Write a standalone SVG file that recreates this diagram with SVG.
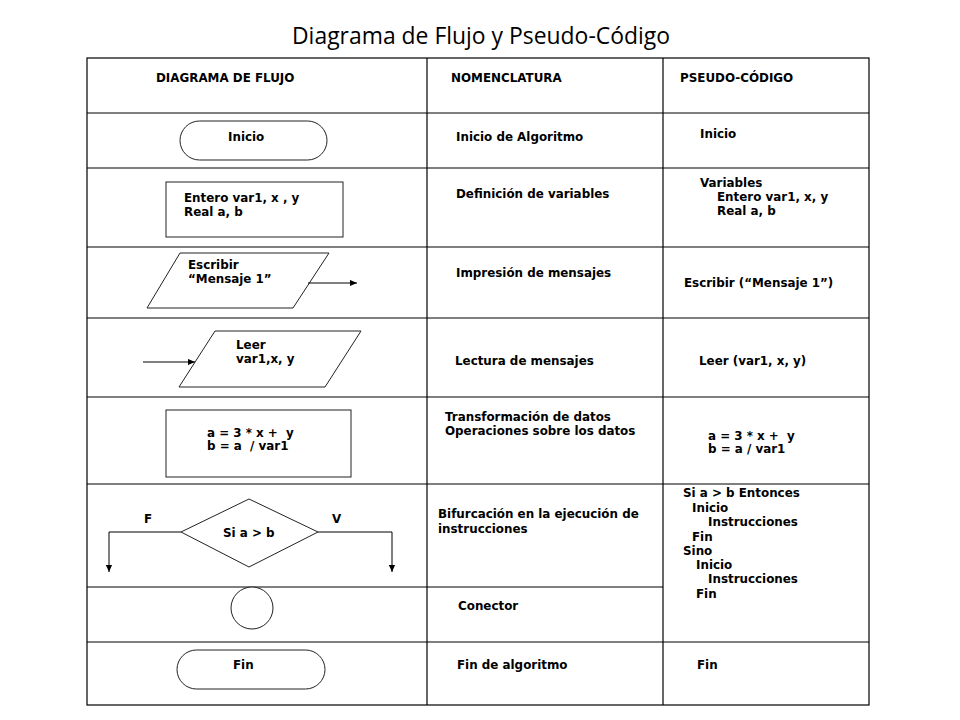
<svg xmlns="http://www.w3.org/2000/svg" width="960" height="720" viewBox="0 0 960 720">
  <defs>
    <marker id="arrow" viewBox="0 0 8 8" refX="8" refY="4" markerWidth="8" markerHeight="7" markerUnits="userSpaceOnUse" orient="auto">
      <path d="M0,0.5 L8,4 L0,7.5 z" fill="#000"/>
    </marker>
  </defs>
  <style>
    .grid { stroke: #000; stroke-width: 1.2; fill: none; }
    .shape { stroke: #222; stroke-width: 1; fill: #fff; }
    .conn { stroke: #000; stroke-width: 1; fill: none; }
    .t { font-family: "DejaVu Sans", Verdana, sans-serif; font-weight: bold; font-size: 11.9px; fill: #000; }
    .title { font-family: "Open Sans", "Noto Sans", sans-serif; font-size: 23.5px; fill: #000; }
  </style>
  <rect width="960" height="720" fill="#fff"/>

  <text class="title" x="292" y="44" textLength="378" lengthAdjust="spacingAndGlyphs">Diagrama de Flujo y Pseudo-Código</text>

  <g id="table" class="grid">
    <rect x="87" y="58" width="782" height="647"/>
    <line x1="427" y1="58" x2="427" y2="705"/>
    <line x1="663" y1="58" x2="663" y2="705"/>
    <line x1="87" y1="113" x2="869" y2="113"/>
    <line x1="87" y1="168" x2="869" y2="168"/>
    <line x1="87" y1="247" x2="869" y2="247"/>
    <line x1="87" y1="318" x2="869" y2="318"/>
    <line x1="87" y1="397" x2="869" y2="397"/>
    <line x1="87" y1="484" x2="869" y2="484"/>
    <line x1="87" y1="587" x2="663" y2="587"/>
    <line x1="87" y1="642" x2="869" y2="642"/>
  </g>

  <g id="headers">
    <text class="t" x="156" y="82">DIAGRAMA DE FLUJO</text>
    <text class="t" x="451" y="82">NOMENCLATURA</text>
    <text class="t" x="680" y="82">PSEUDO-CÓDIGO</text>
  </g>

  <g id="node-inicio">
    <rect class="shape" x="180" y="121" width="147" height="39" rx="19.5" ry="19.5"/>
    <text class="t" x="228" y="141">Inicio</text>
  </g>
  <g id="node-variables">
    <rect class="shape" x="166" y="182" width="177" height="55"/>
    <text class="t" x="184" y="202">Entero var1, x , y</text>
    <text class="t" x="184" y="216">Real a, b</text>
  </g>
  <g id="node-escribir">
    <polygon class="shape" points="180,253 329,253 293,308 147,308"/>
    <text class="t" x="188" y="269">Escribir</text>
    <text class="t" x="188" y="283">“Mensaje 1”</text>
  </g>
  <g id="node-leer">
    <polygon class="shape" points="215,331 361,331 325,387 179,387"/>
    <text class="t" x="236" y="349">Leer</text>
    <text class="t" x="236" y="363">var1,x, y</text>
  </g>
  <g id="node-proceso">
    <rect class="shape" x="166" y="410" width="185" height="67"/>
    <text class="t" x="207" y="437" xml:space="preserve">a = 3 * x +  y</text>
    <text class="t" x="207" y="450" xml:space="preserve">b = a  / var1</text>
  </g>
  <g id="node-decision">
    <polygon class="shape" points="181,532 249,499 318,532 249,567"/>
    <text class="t" x="223" y="537">Si a &gt; b</text>
  </g>
  <g id="node-conector">
    <circle class="shape" cx="252" cy="608" r="21"/>
  </g>
  <g id="node-fin">
    <rect class="shape" x="177" y="650" width="148" height="39" rx="19.5" ry="19.5"/>
    <text class="t" x="233" y="669">Fin</text>
  </g>

  <g id="connectors" class="conn">
    <line x1="308" y1="283" x2="357" y2="283" marker-end="url(#arrow)"/>
    <line x1="143" y1="362" x2="195" y2="362" marker-end="url(#arrow)"/>
    <polyline points="181,532 109,532 109,572" marker-end="url(#arrow)"/>
    <polyline points="318,532 392,532 392,572" marker-end="url(#arrow)"/>
  </g>
  <g id="branch-labels">
    <text class="t" x="144" y="523">F</text>
    <text class="t" x="332" y="523">V</text>
  </g>

  <g id="nomenclatura">
    <text class="t" x="456" y="141">Inicio de Algoritmo</text>
    <text class="t" x="456" y="198">Definición de variables</text>
    <text class="t" x="456" y="277">Impresión de mensajes</text>
    <text class="t" x="455" y="365">Lectura de mensajes</text>
    <text class="t" x="445" y="421">Transformación de datos</text>
    <text class="t" x="445" y="435">Operaciones sobre los datos</text>
    <text class="t" x="438" y="518">Bifurcación en la ejecución de</text>
    <text class="t" x="438" y="533">instrucciones</text>
    <text class="t" x="458" y="610">Conector</text>
    <text class="t" x="457" y="669">Fin de algoritmo</text>
  </g>

  <g id="pseudocodigo">
    <text class="t" x="700" y="138">Inicio</text>
    <text class="t" x="700" y="187">Variables</text>
    <text class="t" x="717" y="201">Entero var1, x, y</text>
    <text class="t" x="717" y="215">Real a, b</text>
    <text class="t" x="684" y="287">Escribir (“Mensaje 1”)</text>
    <text class="t" x="699" y="365">Leer (var1, x, y)</text>
    <text class="t" x="708" y="440" xml:space="preserve">a = 3 * x +  y</text>
    <text class="t" x="708" y="453">b = a / var1</text>
    <text class="t" x="683" y="497">Si a &gt; b Entonces</text>
    <text class="t" x="692" y="512">Inicio</text>
    <text class="t" x="708" y="526">Instrucciones</text>
    <text class="t" x="692" y="541">Fin</text>
    <text class="t" x="683" y="555">Sino</text>
    <text class="t" x="696" y="569">Inicio</text>
    <text class="t" x="708" y="583">Instrucciones</text>
    <text class="t" x="696" y="598">Fin</text>
    <text class="t" x="697" y="669">Fin</text>
  </g>
</svg>
